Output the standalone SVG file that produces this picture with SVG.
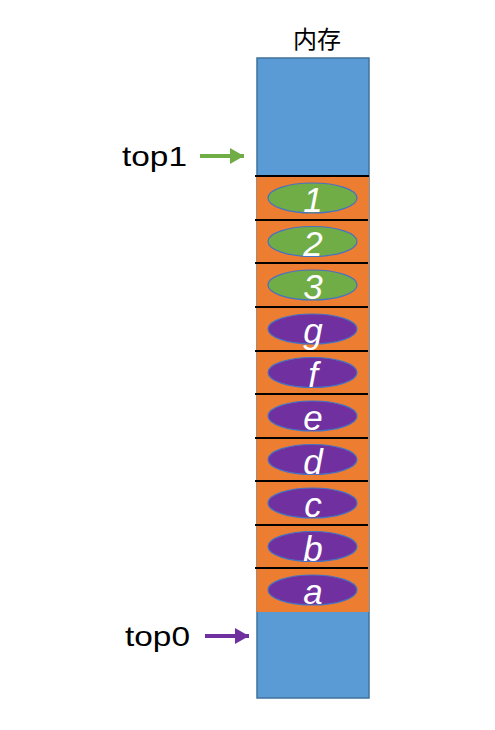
<svg xmlns="http://www.w3.org/2000/svg" width="495" height="730" viewBox="0 0 495 730">
<style>
.lbl{font-family:"Liberation Sans","Noto Sans CJK SC",sans-serif;fill:#000}
.cell{fill:#ED7D31}
.sep{stroke:#000;stroke-width:2}
.g{fill:#70AD47;stroke:#4472C4;stroke-width:1.2}
.p{fill:#7030A0;stroke:#4472C4;stroke-width:1.2}
.t{font-family:"Liberation Sans",sans-serif;font-style:italic;font-size:35px;fill:#fff;text-anchor:middle}
</style>
<defs>
<marker id="ag" markerUnits="userSpaceOnUse" markerWidth="15" markerHeight="16" refX="14" refY="8" orient="auto"><path d="M0,0 L14,8 L0,16 Z" fill="#70AD47"/></marker>
<marker id="ap" markerUnits="userSpaceOnUse" markerWidth="15" markerHeight="16" refX="14" refY="8" orient="auto"><path d="M0,0 L14,8 L0,16 Z" fill="#7030A0"/></marker>
</defs>
<rect x="0" y="0" width="495" height="730" fill="#fff"/>
<text class="lbl" x="317" y="48" font-size="24" text-anchor="middle" fill="#222">内存</text>
<g id="memory">
<rect x="257" y="58" width="112" height="640" fill="#5B9BD5" stroke="#41719C" stroke-width="1.5"/>
<rect class="cell" x="256.5" y="176" width="112.5" height="436"/>
</g>
<g id="separators">
<line class="sep" x1="255" y1="176" x2="369" y2="176"/>
<line class="sep" x1="255" y1="220" x2="368" y2="220"/>
<line class="sep" x1="255" y1="263" x2="368" y2="263"/>
<line class="sep" x1="255" y1="307" x2="368" y2="307"/>
<line class="sep" x1="255" y1="351" x2="368" y2="351"/>
<line class="sep" x1="255" y1="394" x2="368" y2="394"/>
<line class="sep" x1="255" y1="438" x2="368" y2="438"/>
<line class="sep" x1="255" y1="481" x2="368" y2="481"/>
<line class="sep" x1="255" y1="525" x2="368" y2="525"/>
<line class="sep" x1="255" y1="568" x2="368" y2="568"/>
</g>
<g id="n1"><ellipse class="g" cx="312.5" cy="198" rx="44.5" ry="15"/><text class="t" x="313" y="212">1</text></g>
<g id="n2"><ellipse class="g" cx="312.5" cy="241.5" rx="44.5" ry="15"/><text class="t" x="313" y="255.5">2</text></g>
<g id="n3"><ellipse class="g" cx="312.5" cy="285" rx="44.5" ry="15"/><text class="t" x="313" y="299">3</text></g>
<g id="ng"><ellipse class="p" cx="312.5" cy="329" rx="44.5" ry="15"/><text class="t" x="313" y="343">g</text></g>
<g id="nf"><ellipse class="p" cx="312.5" cy="372.5" rx="44.5" ry="15"/><text class="t" x="313" y="386.5">f</text></g>
<g id="ne"><ellipse class="p" cx="312.5" cy="416" rx="44.5" ry="15"/><text class="t" x="313" y="430">e</text></g>
<g id="nd"><ellipse class="p" cx="312.5" cy="459.5" rx="44.5" ry="15"/><text class="t" x="313" y="473.5">d</text></g>
<g id="nc"><ellipse class="p" cx="312.5" cy="503" rx="44.5" ry="15"/><text class="t" x="313" y="517">c</text></g>
<g id="nb"><ellipse class="p" cx="312.5" cy="546.5" rx="44.5" ry="15"/><text class="t" x="313" y="560.5">b</text></g>
<g id="na"><ellipse class="p" cx="312.5" cy="590" rx="44.5" ry="15"/><text class="t" x="313" y="604">a</text></g>
<g id="top1"><text class="lbl" x="122" y="166" font-size="28" textLength="65" lengthAdjust="spacingAndGlyphs">top1</text></g>
<g id="top0"><text class="lbl" x="125" y="646" font-size="28" textLength="65" lengthAdjust="spacingAndGlyphs">top0</text></g>
<g id="connectors">
<line x1="200" y1="156" x2="244" y2="156" stroke="#70AD47" stroke-width="4" marker-end="url(#ag)"/>
<line x1="205" y1="636" x2="249" y2="636" stroke="#7030A0" stroke-width="4" marker-end="url(#ap)"/>
</g>
</svg>
